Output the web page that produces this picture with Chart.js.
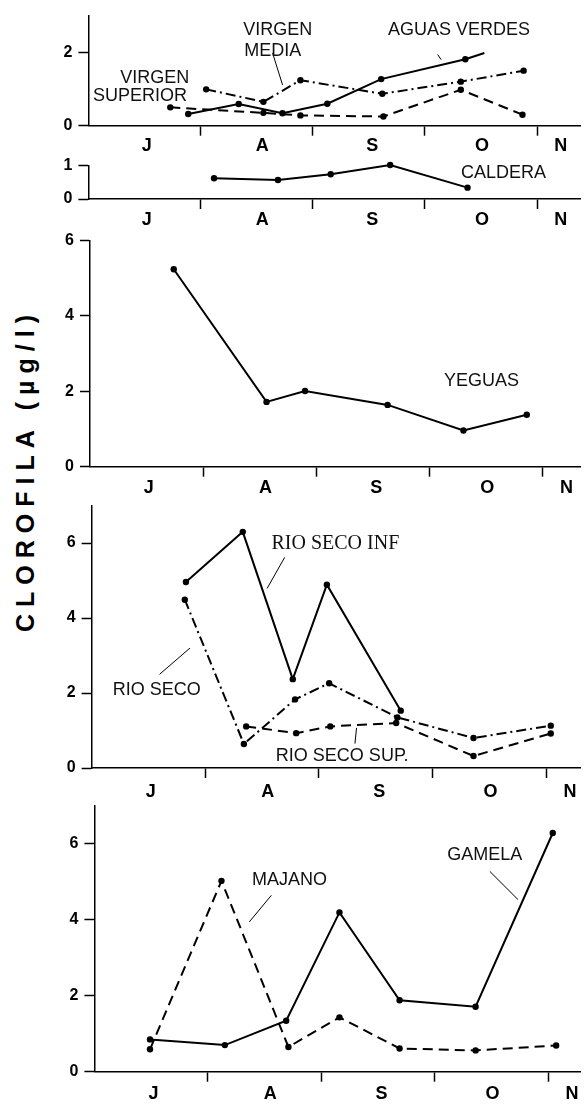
<!DOCTYPE html>
<html><head><meta charset="utf-8">
<script src="https://cdn.jsdelivr.net/npm/chart.js@4.4.1/dist/chart.umd.min.js"></script>
<style>
html,body{margin:0;padding:0;background:#fff;width:584px;height:1104px;overflow:hidden;position:relative;}
canvas{position:absolute;left:0;}
#ytitle{position:absolute;left:25px;top:470px;transform:translate(-50%,-50%) rotate(-90deg);font:bold 25px 'Liberation Sans',Arial,sans-serif;letter-spacing:7px;white-space:nowrap;color:#000;}
</style></head><body>
<div id="ytitle">CLOROFILA (µg/l)</div>
<canvas id="c1"></canvas>
<canvas id="c2"></canvas>
<canvas id="c3"></canvas>
<canvas id="c4"></canvas>
<canvas id="c5"></canvas>
<script>
// ---- axis labels ----
const monthLabels = ['J','A','S','O','N'];
const monthTickValues = [0.52, 1.55, 2.53, 3.51, 4.21];
const monthBoundaries = [1, 2, 3, 4];

// ---- panel 1 ----
const vsupX = [0.73, 1.56, 1.89, 2.63, 3.32, 3.87];
const vsupY = [0.50, 0.35, 0.28, 0.25, 0.98, 0.30];
const avX   = [0.89, 1.34, 1.73, 2.13, 2.61, 3.36, 3.53];
const avY   = [0.32, 0.59, 0.34, 0.60, 1.27, 1.81, 1.98];
const vmedX = [1.05, 1.56, 1.89, 2.62, 3.32, 3.88];
const vmedY = [0.99, 0.65, 1.24, 0.87, 1.20, 1.50];
// ---- panel 2 ----
const calX = [1.12, 1.69, 2.16, 2.69, 3.38];
const calY = [0.62, 0.57, 0.74, 1.02, 0.34];
// ---- panel 3 ----
const yegX = [0.74, 1.56, 1.90, 2.63, 3.30, 3.86];
const yegY = [5.24, 1.72, 2.01, 1.64, 0.96, 1.38];
// ---- panel 4 ----
const rsiX = [0.83, 1.33, 1.77, 2.07, 2.72];
const rsiY = [4.96, 6.30, 2.37, 4.89, 1.53];
const rsX  = [0.82, 1.34, 1.79, 2.09, 2.69, 3.36, 4.04];
const rsY  = [4.49, 0.64, 1.83, 2.26, 1.35, 0.80, 1.13];
const rssX = [1.36, 1.80, 2.10, 2.68, 3.36, 4.04];
const rssY = [1.11, 0.93, 1.11, 1.20, 0.32, 0.92];
// ---- panel 5 ----
const gamX = [0.49, 1.15, 1.69, 2.16, 2.69, 3.36, 4.04];
const gamY = [0.85, 0.70, 1.34, 4.19, 1.88, 1.71, 6.28];
const majX = [0.49, 1.12, 1.71, 2.16, 2.69, 3.36, 4.07];
const majY = [0.59, 5.02, 0.65, 1.43, 0.61, 0.56, 0.69];

const SOLID = [], DASH = [10, 6], DASHDOT = [10, 4, 2, 4];
const SANS = "'Liberation Sans', Arial, sans-serif";
const SERIF = "'Liberation Serif', 'Times New Roman', serif";

function series(xs, ys, dash, radii) {
  return {
    data: xs.map((x, i) => ({x: x, y: ys[i]})),
    borderColor: '#000', borderWidth: 2, borderDash: dash,
    pointRadius: radii || 3.2, pointBackgroundColor: '#000', pointBorderWidth: 0,
    pointHoverRadius: 0, tension: 0, fill: false, clip: 10
  };
}

const annotPlugin = {
  id: 'annot',
  afterDatasetsDraw(chart, args, opts) {
    const ctx = chart.ctx, xs = chart.scales.x, ys = chart.scales.y;
    ctx.save();
    ctx.strokeStyle = '#000'; ctx.lineWidth = 1; ctx.setLineDash([]);
    (opts.lines || []).forEach(l => {
      ctx.beginPath();
      ctx.moveTo(xs.getPixelForValue(l[0]), ys.getPixelForValue(l[1]));
      ctx.lineTo(xs.getPixelForValue(l[2]), ys.getPixelForValue(l[3]));
      ctx.stroke();
    });
    ctx.fillStyle = '#111'; ctx.textBaseline = 'middle';
    (opts.texts || []).forEach(t => {
      ctx.font = t.font || ('18px ' + SANS);
      ctx.textAlign = t.align || 'center';
      ctx.fillText(t.t, xs.getPixelForValue(t.x), ys.getPixelForValue(t.y));
    });
    ctx.restore();
  }
};

function makePanel(id, g, datasets, yTicks, annot) {
  const cv = document.getElementById(id);
  cv.width = 584; cv.height = g.h;
  cv.style.top = g.top + 'px';
  const topPx = g.y0 - g.ymax * g.unit;
  const xmax = (584 - g.left) / g.ppm;
  const xTicks = monthBoundaries.concat(monthTickValues).sort((a, b) => a - b);
  new Chart(cv, {
    type: 'line',
    data: {datasets: datasets},
    plugins: [annotPlugin],
    options: {
      responsive: false, animation: false, devicePixelRatio: 1,
      layout: {padding: {top: topPx - g.top, left: 0, right: 0, bottom: 0}},
      plugins: {legend: {display: false}, tooltip: {enabled: false}, annot: annot},
      events: [],
      scales: {
        x: {
          type: 'linear', min: 0, max: xmax,
          afterFit: s => { s.height = g.top + g.h - g.y0; },
          afterBuildTicks: s => { s.ticks = xTicks.map(v => ({value: v})); },
          ticks: {
            autoSkip: false, maxRotation: 0, padding: g.lp, color: '#000',
            font: {family: SANS, size: 18, weight: 'bold'},
            callback: v => { const i = monthTickValues.indexOf(v); return i >= 0 ? monthLabels[i] : ''; }
          },
          grid: {
            drawOnChartArea: false, tickLength: 10, tickWidth: 1.5,
            tickColor: c => (c.tick && monthBoundaries.indexOf(c.tick.value) >= 0) ? '#000' : 'rgba(0,0,0,0)'
          },
          border: {display: true, color: '#000', width: 1.5}
        },
        y: {
          type: 'linear', min: 0, max: g.ymax,
          afterFit: s => { s.width = g.left; },
          afterBuildTicks: s => { s.ticks = yTicks.map(v => ({value: v})); },
          ticks: {padding: 6, color: '#000', font: {family: SANS, size: 16, weight: 'bold'}},
          grid: {drawOnChartArea: false, tickLength: 10, tickWidth: 1.5, tickColor: '#000'},
          border: {display: true, color: '#000', width: 1.5}
        }
      }
    }
  });
}

makePanel('c1', {top: 0, h: 160, left: 88.4, ppm: 112.9, y0: 125.7, unit: 38.2, ymax: 3, lp: 0},
  [series(vsupX, vsupY, DASH), series(avX, avY, SOLID, [3.2,3.2,3.2,3.2,3.2,3.2,0]), series(vmedX, vmedY, DASHDOT)],
  [0, 2],
  {texts: [
    {t: 'VIRGEN', x: 1.38, y: 2.61, align: 'left'},
    {t: 'MEDIA', x: 1.39, y: 2.03, align: 'left'},
    {t: 'AGUAS VERDES', x: 2.67, y: 2.61, align: 'left'},
    {t: 'VIRGEN', x: 0.90, y: 1.30, align: 'right'},
    {t: 'SUPERIOR', x: 0.88, y: 0.81, align: 'right'}
  ], lines: [[1.642, 1.98, 1.731, 1.11], [3.114, 1.94, 3.144, 1.80]]});

makePanel('c2', {top: 150, h: 80, left: 88.4, ppm: 112.9, y0: 199, unit: 37.3, ymax: 1, lp: 0},
  [series(calX, calY, SOLID)],
  [0, 1],
  {texts: [{t: 'CALDERA', x: 3.70, y: 0.78}]});

makePanel('c3', {top: 225, h: 270, left: 90, ppm: 113.9, y0: 466.7, unit: 38.23, ymax: 6, lp: 1},
  [series(yegX, yegY, SOLID)],
  [0, 2, 4, 6],
  {texts: [{t: 'YEGUAS', x: 3.46, y: 2.27}]});

makePanel('c4', {top: 490, h: 310, left: 91.6, ppm: 114.4, y0: 768, unit: 37.9, ymax: 7, lp: 3},
  [series(rsiX, rsiY, SOLID), series(rsX, rsY, DASHDOT), series(rssX, rssY, DASH)],
  [0, 2, 4, 6],
  {texts: [
    {t: 'RIO SECO INF', x: 2.145, y: 5.98, font: '20px ' + SERIF},
    {t: 'RIO SECO', x: 0.574, y: 2.07},
    {t: 'RIO SECO SUP.', x: 2.205, y: 0.32}
  ], lines: [[1.699, 5.62, 1.544, 4.79], [0.598, 2.50, 0.866, 3.20], [2.331, 1.07, 2.317, 0.65]]});

makePanel('c5', {top: 790, h: 314, left: 94.4, ppm: 114.2, y0: 1071.7, unit: 38.07, ymax: 7, lp: 2},
  [series(gamX, gamY, SOLID), series(majX, majY, DASH)],
  [0, 2, 4, 6],
  {texts: [
    {t: 'MAJANO', x: 1.719, y: 5.05},
    {t: 'GAMELA', x: 3.441, y: 5.69}
  ], lines: [[1.560, 4.64, 1.365, 3.94], [3.485, 5.27, 3.733, 4.53]]});
</script>
</body></html>
